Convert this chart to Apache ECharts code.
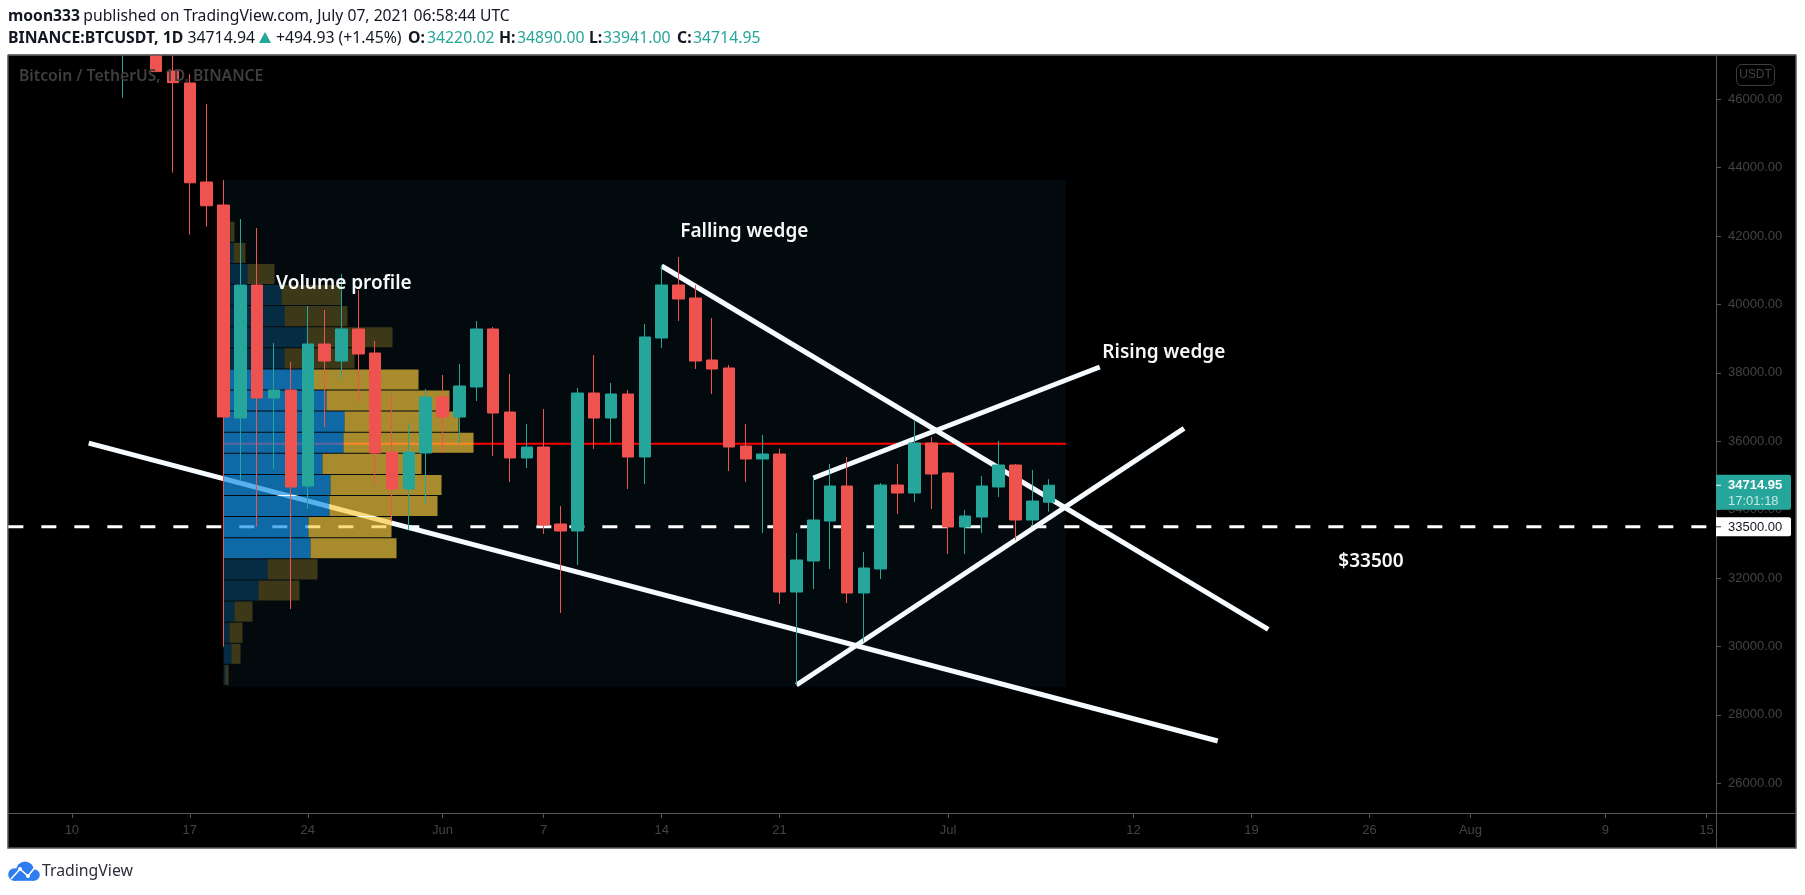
<!DOCTYPE html>
<html>
<head>
<meta charset="utf-8">
<title>BTCUSDT 1D</title>
<script src="https://cdn.jsdelivr.net/npm/echarts@6/dist/echarts.min.js"></script>
<style>html,body{margin:0;padding:0;background:#fff}#c{width:1805px;height:895px}</style>
</head>
<body>
<div id="c"></div>
<script>
const candleDates = ['05-13','05-14','05-15','05-16','05-17','05-18','05-19','05-20','05-21','05-22','05-23','05-24','05-25','05-26','05-27','05-28','05-29','05-30','05-31','06-01','06-02','06-03','06-04','06-05','06-06','06-07','06-08','06-09','06-10','06-11','06-12','06-13','06-14','06-15','06-16','06-17','06-18','06-19','06-20','06-21','06-22','06-23','06-24','06-25','06-26','06-27','06-28','06-29','06-30','07-01','07-02','07-03','07-04','07-05','07-06','07-07'];
const opens  = [49540,49670,49900,46828,46478,43582,42910,36681,40570,37266,37500,34693,38845,38348,39284,38582,35687,34605,35658,37295,36710,37588,39284,36856,35512,35833,33582,33377,37412,36681,37383,35541,39020,40570,40190,38377,38143,35862,35482,35628,31593,32500,33669,34693,31564,32266,34722,34488,35950,35073,33494,33786,34664,35307,33699,34220.02];
const highs  = [51370,51560,50700,49800,46739,45862,43640,42500,42238,38874,38319,39956,39839,40892,40424,38933,37383,36535,37529,37938,38260,39518,39342,37968,36506,36944,34108,37558,38523,37705,37500,39430,41155,41389,40570,39605,38231,36506,36184,35775,33318,34927,35336,35541,32763,34781,35336,36623,36126,35102,33991,34985,36009,35336,35161,34890];
const lows   = [46050,48870,46810,43854,42042,42275,29994,34839,33503,35190,31096,34020,36418,37822,37149,34693,33650,33396,34166,35658,35921,37178,35570,34810,35219,33289,30979,32383,35775,35950,34605,34751,38728,39518,38114,37383,35131,34810,33318,31242,28870,31681,32266,31272,30140,31973,33874,34225,34020,32704,32704,33318,34371,33113,33523,33941];
const closes = [49670,49840,46810,46486,43559,42887,36711,40570,37266,37500,34664,38845,38348,39284,38553,35658,34605,35687,37295,36710,37617,39284,36827,35512,35833,33552,33377,37412,36681,37383,35541,39050,40570,40161,38348,38114,35833,35482,35628,31593,32529,33699,34693,31564,32295,34722,34488,35950,35044,33494,33816,34693,35307,33699,34254,34714.95];

const xTickDays  = [-9,-2,5,13,19,26,33,43,54,61,68,74,82,88];
const xTickTexts = ['10','17','24','Jun','7','14','21','Jul','12','19','26','Aug','9','15'];
const yTicks = [26000,28000,30000,32000,34000,36000,38000,40000,42000,44000,46000];

const profileUp   = [7,10,24,58,61,83,61,89,103,121,120,99,107,106,85,87,44,35,11,6,8,2];
const profileDown = [4,12,27,60,63,86,70,106,123,114,130,99,111,108,83,86,50,41,18,13,9,3];
const profileValueArea = [0,0,0,0,0,0,0,1,1,1,1,1,1,1,1,1,0,0,0,0,0,0];
const profileTop = 42421, profileStep = 617, profileUnitsPerDay = 16.85;
const pocPrice = 35931;
const rangeDays = [0,50], rangePrices = [28820,43640];

const trendDays   = [[-8,59],[26,62],[35,52],[34,57]];
const trendPrices = [[35945,27237],[41126,30503],[34927,38173],[28874,36380]];
const levelPrice = 33500, levelEndDay = 88;
const lastPrice = 34714.95, countdown = '17:01:18';

const noteTexts  = ['Volume profile','Falling wedge','Rising wedge','$33500'];
const noteDays   = [3.12,27.1,52.15,66.16];
const notePrices = [40600,42130,38600,32480];

const quoteTexts = ['BINANCE:BTCUSDT, 1D','34714.94','+494.93 (+1.45%)','O:','34220.02','H:','34890.00','L:','33941.00','C:','34714.95'];
const quoteX     = [8,187.5,276,408,427,499,517,589,603,677,693];
const quoteKinds = ['b','n','n','b','t','b','t','b','t','b','t'];

const xMin = -12.79, xMax = 88.57, yMin = 25131, yMax = 47296;
const TEAL = '#26a69a', RED = '#ef5350', INK = '#131722', UI = '"Noto Sans","Open Sans",sans-serif', AX = '"Liberation Sans",Arial,sans-serif';

const dayOf = d => { const [m, dd] = d.split('-').map(Number); return (Date.UTC(2021, m - 1, dd) - Date.UTC(2021, 4, 19)) / 864e5; };
const candles = candleDates.map((d, i) => [dayOf(d), opens[i], closes[i], lows[i], highs[i]]);

const trendSeries = trendDays.map((ds, i) => ({
  type: 'line', z: 2, silent: true, symbol: 'none', animation: false,
  data: ds.map((d, j) => [d, trendPrices[i][j]]),
  lineStyle: { color: '#f6fbff', width: 5, cap: 'butt' }
}));

const quoteGraphics = quoteTexts.map((t, i) => ({
  type: 'text', z: 50, silent: true,
  style: { x: quoteX[i], y: 38, text: t, textVerticalAlign: 'middle',
    fill: quoteKinds[i] === 't' ? TEAL : INK,
    font: (quoteKinds[i] === 'b' ? '700 ' : '') + '15.8px ' + UI }
}));

const chart = echarts.init(document.getElementById('c'), null, { renderer: 'canvas' });
chart.setOption({
  animation: false,
  backgroundColor: '#fff',
  grid: { left: 8, right: 89, top: 55, bottom: 82, containLabel: false },
  xAxis: {
    type: 'value', min: xMin, max: xMax, scale: true, z: 1,
    splitLine: { show: false },
    axisLine: { onZero: false, lineStyle: { color: '#555', width: 1 } },
    axisTick: { length: 5, lineStyle: { color: '#555' }, customValues: xTickDays },
    axisLabel: { customValues: xTickDays, color: '#434343', fontFamily: AX, fontSize: 13, margin: 11,
      formatter: v => xTickTexts[xTickDays.indexOf(v)] }
  },
  yAxis: {
    type: 'value', position: 'right', min: yMin, max: yMax, scale: true, z: 1,
    splitLine: { show: false },
    axisLine: { show: true, onZero: false, lineStyle: { color: '#555', width: 1 } },
    axisTick: { show: true, length: 5, lineStyle: { color: '#555' }, customValues: yTicks },
    axisLabel: { customValues: yTicks, color: '#434343', fontFamily: AX, fontSize: 13, margin: 12,
      formatter: v => v.toFixed(2) }
  },
  graphic: [
    { type: 'rect', z: -5, silent: true, shape: { x: 8, y: 55, width: 1788, height: 793 }, style: { fill: '#000', stroke: '#555', lineWidth: 1.5 } },
    { type: 'rect', z: 40, silent: true, shape: { x: 0, y: 0, width: 1805, height: 54.5 }, style: { fill: '#fff' } },
    { type: 'line', z: 41, silent: true, shape: { x1: 8, y1: 55, x2: 1796, y2: 55 }, style: { stroke: '#555', lineWidth: 1.5 } },
    { type: 'line', z: 1, silent: true, shape: { x1: 1716.5, y1: 813, x2: 1716.5, y2: 848 }, style: { stroke: '#555', lineWidth: 1 } },
    { type: 'line', z: 1, silent: true, shape: { x1: 1716, y1: 813.5, x2: 1796, y2: 813.5 }, style: { stroke: '#555', lineWidth: 1 } },
    { type: 'rect', z: 1, silent: true, shape: { x: 1736.5, y: 64.5, width: 38, height: 21, r: 5 }, style: { fill: '#000', stroke: '#3d3d3d', lineWidth: 1 } },
    { type: 'text', z: 1, silent: true, style: { x: 1755.5, y: 75, text: 'USDT', fill: '#434343', font: '12px ' + AX, textAlign: 'center', textVerticalAlign: 'middle' } },
    { type: 'text', z: 50, silent: true, style: { x: 19, y: 76.5, text: 'Bitcoin / TetherUS, 1D, BINANCE', fill: '#3e3e3e', font: '600 15.7px ' + UI, textVerticalAlign: 'middle' } },
    { type: 'text', z: 50, silent: true, style: { x: 8, y: 16.5, fill: INK, textVerticalAlign: 'middle',
        text: '{b|moon333} {n|published on TradingView.com, July 07, 2021 06:58:44 UTC}',
        rich: { b: { font: '700 15.7px ' + UI, fill: INK }, n: { font: '15.7px ' + UI, fill: INK } } } },
    ...quoteGraphics,
    { type: 'polygon', z: 50, silent: true, shape: { points: [[259, 43], [265, 32], [271, 43]] }, style: { fill: TEAL } },
    { type: 'circle', z: 50, silent: true, shape: { cx: 25, cy: 870.5, r: 9 }, style: { fill: '#2e7cf0' } },
    { type: 'circle', z: 50, silent: true, shape: { cx: 14.5, cy: 874.5, r: 6.3 }, style: { fill: '#2e7cf0' } },
    { type: 'circle', z: 50, silent: true, shape: { cx: 34, cy: 875, r: 5.8 }, style: { fill: '#2e7cf0' } },
    { type: 'rect', z: 50, silent: true, shape: { x: 14, y: 873, width: 20, height: 7.8 }, style: { fill: '#2e7cf0' } },
    { type: 'polyline', z: 51, silent: true, shape: { points: [[11, 879], [20, 869], [28, 876], [36, 866]] }, style: { stroke: '#fff', lineWidth: 1.6, fill: null } },
    { type: 'circle', z: 51, silent: true, shape: { cx: 20, cy: 869, r: 2 }, style: { fill: '#fff' } },
    { type: 'circle', z: 51, silent: true, shape: { cx: 28, cy: 876, r: 2 }, style: { fill: '#fff' } },
    { type: 'text', z: 50, silent: true, style: { x: 42, y: 871.5, text: 'TradingView', fill: '#2a2e39', font: '15.8px ' + UI, textVerticalAlign: 'middle' } }
  ],
  series: [
    { type: 'custom', z: 1, silent: true, clip: true, data: [[rangeDays[0], rangePrices[0]]],
      renderItem: (p, api) => {
        const a = api.coord([rangeDays[0], rangePrices[1]]), b = api.coord([rangeDays[1], rangePrices[0]]);
        return { type: 'rect', shape: { x: a[0], y: a[1], width: b[0] - a[0], height: b[1] - a[1] }, style: { fill: '#020a0e' } };
      } },
    { type: 'line', z: 2, silent: true, symbol: 'none', animation: false,
      data: [[xMin + 0.02, levelPrice], [levelEndDay, levelPrice]],
      lineStyle: { color: '#fff', width: 3, type: [15, 18], cap: 'butt' } },
    { type: 'line', z: 2, silent: true, symbol: 'none', animation: false,
      data: [[rangeDays[0], pocPrice], [rangeDays[1], pocPrice]],
      lineStyle: { color: '#ff0000', width: 2 } },
    ...trendSeries,
    { type: 'custom', z: 3, silent: true, data: profileUp.map((u, i) => [0, profileTop - i * profileStep]),
      renderItem: (p, api) => {
        const i = p.dataIndex, a = api.coord([0, api.value(1)]), b = api.coord([0, api.value(1) - profileStep]);
        const on = profileValueArea[i] === 1;
        const w1 = api.size([profileUp[i] / profileUnitsPerDay, 0])[0], w2 = api.size([profileDown[i] / profileUnitsPerDay, 0])[0];
        const h = b[1] - a[1] - 1;
        return { type: 'group', children: [
          { type: 'rect', shape: { x: a[0], y: a[1], width: w1, height: h }, style: { fill: on ? 'rgba(21,146,230,0.7)' : 'rgba(21,146,230,0.25)' } },
          { type: 'rect', shape: { x: a[0] + w1, y: a[1], width: w2, height: h }, style: { fill: on ? 'rgba(251,203,60,0.67)' : 'rgba(251,203,60,0.24)' } }
        ] };
      } },
    { type: 'candlestick', z: 4, silent: true, barWidth: 12, data: candles, encode: { x: 0, y: [1, 2, 3, 4] },
      itemStyle: { color: TEAL, color0: RED, borderColor: TEAL, borderColor0: RED, borderWidth: 1 } },
    { type: 'custom', z: 5, silent: true, data: noteTexts.map((t, i) => [noteDays[i], notePrices[i]]),
      renderItem: (p, api) => {
        const c = api.coord([api.value(0), api.value(1)]);
        return { type: 'text', style: { x: c[0], y: c[1], text: noteTexts[p.dataIndex], fill: '#f8f8f8', font: '600 19px ' + UI, textVerticalAlign: 'middle' } };
      } },
    { type: 'custom', z: 20, silent: true, clip: false, data: [[xMax, levelPrice], [xMax, lastPrice]],
      renderItem: (p, api) => {
        const c = api.coord([api.value(0), api.value(1)]);
        if (p.dataIndex === 0) {
          return { type: 'group', children: [
            { type: 'rect', shape: { x: c[0], y: c[1] - 9.5, width: 75, height: 19, r: [0, 2, 2, 0] }, style: { fill: '#fff' } },
            { type: 'rect', shape: { x: c[0], y: c[1] - 0.5, width: 5, height: 1 }, style: { fill: '#333' } },
            { type: 'text', style: { x: c[0] + 12, y: c[1] + 0.5, text: levelPrice.toFixed(2), fill: INK, font: '13px ' + AX, textVerticalAlign: 'middle' } }
          ] };
        }
        return { type: 'group', children: [
          { type: 'rect', shape: { x: c[0], y: c[1] - 10.5, width: 75, height: 35, r: [0, 2, 2, 0] }, style: { fill: TEAL } },
          { type: 'rect', shape: { x: c[0], y: c[1] - 0.5, width: 5, height: 1 }, style: { fill: '#fff' } },
          { type: 'text', style: { x: c[0] + 12, y: c[1], text: lastPrice.toFixed(2), fill: '#fff', font: '700 13px ' + AX, textVerticalAlign: 'middle' } },
          { type: 'text', style: { x: c[0] + 12, y: c[1] + 16, text: countdown, fill: '#c4e8e4', font: '13px ' + AX, textVerticalAlign: 'middle' } }
        ] };
      } }
  ]
});
</script>
</body>
</html>
